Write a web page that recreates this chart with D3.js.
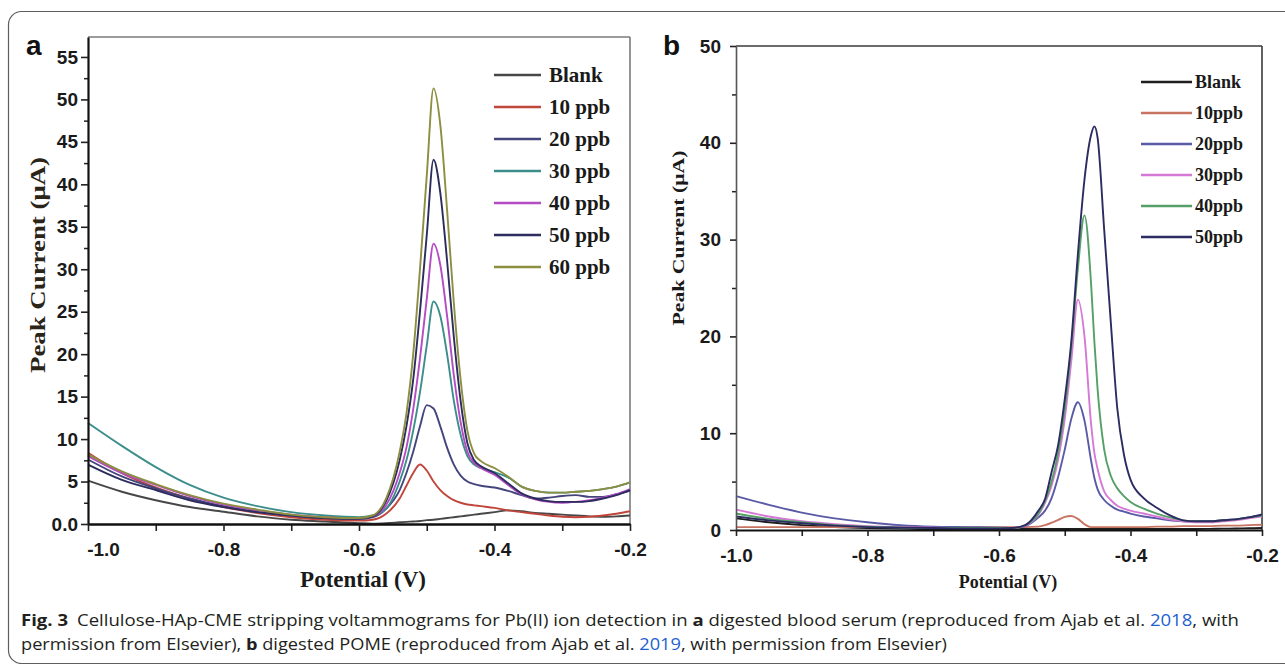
<!DOCTYPE html>
<html><head><meta charset="utf-8">
<script src="https://cdn.jsdelivr.net/npm/d3@7/dist/d3.min.js"></script>
<style>
html,body{margin:0;padding:0;background:#fff;}
svg{display:block;}
</style></head><body>
<svg id="fig" width="1285" height="664"></svg>
<script>
// ---------- Panel a data (blood serum) ----------
const potentialA = [-1.0,-0.95,-0.9,-0.85,-0.8,-0.75,-0.7,-0.65,-0.6,-0.58,-0.56,-0.54,-0.53,-0.52,-0.51,-0.5,-0.49,-0.48,-0.47,-0.46,-0.45,-0.44,-0.43,-0.42,-0.4,-0.38,-0.36,-0.34,-0.32,-0.3,-0.28,-0.26,-0.24,-0.22,-0.2];
const blankA = [5.1,3.8,2.8,2.0,1.45,0.9,0.5,0.3,0.1, 0.05,0.1,0.2,0.25,0.3,0.35,0.45,0.5,0.6,0.7,0.8,0.9,1.0,1.1,1.2,1.4,1.6,1.5,1.3,1.2,1.1,1.0,0.9,0.85,0.9,1.0];
const ppb10A = [8.4,6.0,4.3,3.0,2.0,1.3,0.8,0.5,0.4, 0.5,1.2,3.0,4.5,6.0,7.0,6.3,5.0,4.0,3.3,2.8,2.5,2.3,2.2,2.1,1.9,1.6,1.4,1.2,1.0,0.85,0.8,0.85,1.0,1.2,1.5];
const ppb20A = [7.6,5.6,4.2,3.0,2.1,1.4,1.0,0.7,0.6, 0.8,1.8,4.0,6.0,8.5,11.5,14.0,13.6,11.5,9.0,7.0,5.7,5.0,4.7,4.5,4.3,3.9,3.4,3.0,3.1,3.3,3.4,3.2,3.2,3.5,3.9];
const ppb30A = [11.9,9.2,6.7,4.6,3.1,2.1,1.4,1.0,0.8, 1.0,1.8,5.0,7.5,11.0,15.5,21.0,26.2,24.5,20.0,14.5,10.5,8.0,7.0,6.6,6.1,5.5,4.4,3.9,3.7,3.7,3.8,3.9,4.1,4.4,4.9];
const ppb40A = [8.0,6.0,4.6,3.3,2.3,1.6,1.1,0.8,0.65, 0.9,2.2,6.0,9.0,13.5,19.5,26.5,33.0,30.5,24.5,17.5,12.0,8.5,7.2,6.6,5.8,4.6,3.5,2.9,2.6,2.5,2.6,2.8,3.1,3.5,4.1];
const ppb50A = [7.0,5.2,4.0,2.8,2.0,1.4,1.0,0.7,0.6, 0.9,2.7,7.5,11.5,17.0,25.0,34.0,42.9,39.0,31.0,22.0,14.5,9.5,7.5,6.8,6.0,4.8,3.6,3.0,2.7,2.6,2.6,2.7,3.0,3.4,4.0];
const ppb60A = [8.2,6.2,4.7,3.4,2.4,1.7,1.1,0.8,0.7, 1.0,3.0,8.5,13.0,20.0,30.0,41.0,51.3,47.0,37.0,26.0,17.0,11.0,8.3,7.4,6.6,5.6,4.4,3.9,3.7,3.7,3.8,3.9,4.1,4.4,4.9];
const seriesNamesA = ["Blank","10 ppb","20 ppb","30 ppb","40 ppb","50 ppb","60 ppb"];
const xTicksA = [-1.0,-0.8,-0.6,-0.4,-0.2];
const xMinorA = [-0.9,-0.7,-0.5,-0.3];
const yTicksA = [0,5,10,15,20,25,30,35,40,45,50,55];
const yMinorA = [2.5,7.5,12.5,17.5,22.5,27.5,32.5,37.5,42.5,47.5,52.5];

// ---------- Panel b data (POME) ----------
const potentialB = [-1.0,-0.95,-0.9,-0.85,-0.8,-0.75,-0.7,-0.65,-0.6,-0.58,-0.56,-0.54,-0.53,-0.52,-0.51,-0.5,-0.49,-0.48,-0.47,-0.46,-0.455,-0.45,-0.44,-0.43,-0.42,-0.41,-0.4,-0.38,-0.36,-0.34,-0.32,-0.3,-0.28,-0.26,-0.24,-0.22,-0.2];
const blankB = [1.2,0.8,0.5,0.3,0.2,0.15,0.1,0.1,0.1, 0.1,0.1,0.1,0.1,0.1,0.1,0.1,0.1,0.1,0.1,0.1,0.1,0.1,0.1,0.1,0.1,0.1,0.1,0.1,0.1,0.1,0.1,0.1,0.12,0.14,0.15,0.18,0.2];
const ppb10B = [0.3,0.3,0.3,0.3,0.3,0.3,0.3,0.3,0.3, 0.3,0.3,0.35,0.5,0.75,1.05,1.35,1.45,1.15,0.6,0.3,0.3,0.3,0.3,0.3,0.3,0.3,0.3,0.3,0.35,0.35,0.4,0.4,0.4,0.45,0.45,0.5,0.55];
const ppb20B = [3.5,2.6,1.8,1.2,0.8,0.5,0.35,0.3,0.25, 0.2,0.4,1.3,2.0,3.3,5.5,8.3,11.5,13.2,11.3,7.2,5.4,4.2,3.1,2.5,2.1,1.9,1.7,1.4,1.2,1.0,0.9,0.85,0.9,1.0,1.1,1.3,1.5];
const ppb30B = [2.1,1.4,0.9,0.6,0.4,0.3,0.25,0.2,0.2, 0.2,0.45,1.6,2.8,4.6,7.3,11.5,17.5,23.8,20.0,11.0,8.0,6.3,4.0,3.1,2.5,2.2,2.0,1.7,1.4,1.1,0.9,0.8,0.8,0.9,1.0,1.2,1.4];
const ppb40B = [1.7,1.15,0.8,0.5,0.35,0.25,0.2,0.2,0.2, 0.2,0.5,1.7,3.0,5.0,8.0,12.5,19.0,27.0,32.5,25.5,19.5,14.5,8.3,5.6,4.3,3.5,2.9,2.2,1.7,1.3,1.0,0.9,0.9,1.0,1.1,1.3,1.5];
const ppb50B = [1.4,1.0,0.7,0.45,0.3,0.25,0.2,0.15,0.15, 0.2,0.5,2.0,3.2,6.0,8.8,13.5,19.5,28.5,36.2,40.8,41.7,40.5,31.0,21.5,12.5,7.8,5.2,3.3,2.3,1.5,1.0,0.9,0.9,1.0,1.1,1.3,1.6];
const seriesNamesB = ["Blank","10ppb","20ppb","30ppb","40ppb","50ppb"];
const xTicksB = [-1.0,-0.8,-0.6,-0.4,-0.2];
const xMinorB = [-0.9,-0.7,-0.5,-0.3];
const yTicksB = [0,10,20,30,40,50];
const yMinorB = [5,15,25,35,45];

// ---------- styles ----------
const colorsA = ["#474747","#c0463c","#45457e","#3c8e8c","#b44cc4","#2c2c5e","#8c8e40"];
const colorsB = ["#1e1e1e","#c87462","#5a5aa6","#d678d6","#55a066","#2c2c62"];
const SANS = "'Liberation Sans', Arial, sans-serif";
const SERIF = "'Liberation Serif', 'Times New Roman', serif";

const svg = d3.select("#fig");
svg.append("rect").attr("width",1285).attr("height",664).attr("fill","#fff");
// figure card
svg.append("rect").attr("x",8.5).attr("y",11.5).attr("width",1400).attr("height",652)
  .attr("rx",13).attr("fill","none").attr("stroke","#5e5e5e").attr("stroke-width",1.2);

function fmt(d){ return d.toFixed(1); }

function panel(cfg){
  const g = svg.append("g");
  const x = d3.scaleLinear().domain([-1.0,-0.2]).range([cfg.x0,cfg.x1]);
  const y = d3.scaleLinear().domain([0,cfg.yTop]).range([cfg.y0,cfg.y1]);
  // frame top/right
  g.append("line").attr("x1",cfg.x0).attr("x2",cfg.x1).attr("y1",cfg.y1).attr("y2",cfg.y1)
    .attr("stroke",cfg.frameColor).attr("stroke-width",1.6);
  g.append("line").attr("x1",cfg.x1).attr("x2",cfg.x1).attr("y1",cfg.y1).attr("y2",cfg.y0)
    .attr("stroke",cfg.frameColor).attr("stroke-width",1.6);
  // curves
  const line = d3.line().x(d=>x(d[0])).y(d=>y(d[1])).curve(d3.curveMonotoneX);
  cfg.series.forEach((s,i)=>{
    g.append("path").datum(cfg.xs.map((v,j)=>[v,s[j]]))
      .attr("d",line).attr("fill","none").attr("stroke",cfg.colors[i])
      .attr("stroke-width",cfg.lw).attr("stroke-linejoin","round");
  });
  // y minor
  g.append("g").attr("transform",`translate(${cfg.x0},0)`)
    .call(d3.axisLeft(y).tickValues(cfg.yMinor).tickSize(cfg.minorLen).tickFormat(""))
    .call(a=>{a.select(".domain").remove(); a.selectAll("line").attr("stroke","#222").attr("stroke-width",1.5);});
  // y major
  const ya = g.append("g").attr("transform",`translate(${cfg.x0},0)`)
    .call(d3.axisLeft(y).tickValues(cfg.yTicks).tickSize(cfg.majorLen).tickPadding(cfg.yPad)
      .tickSizeOuter(0).tickFormat(cfg.yFmt));
  ya.select(".domain").attr("stroke",cfg.leftColor).attr("stroke-width",cfg.leftW);
  ya.selectAll(".tick line").attr("stroke","#222").attr("stroke-width",1.6);
  ya.selectAll("text").attr("font-family",SANS).attr("font-weight","bold")
    .attr("font-size",cfg.tickFs).attr("fill","#1a1a1a");
  // x minor
  g.append("g").attr("transform",`translate(0,${cfg.y0})`)
    .call(d3.axisBottom(x).tickValues(cfg.xMinor).tickSize(cfg.xTickLen).tickFormat(""))
    .call(a=>{a.select(".domain").remove(); a.selectAll("line").attr("stroke","#222").attr("stroke-width",1.6);});
  // x major
  const xa = g.append("g").attr("transform",`translate(0,${cfg.y0})`)
    .call(d3.axisBottom(x).tickValues(cfg.xTicks).tickSize(cfg.xTickLen).tickPadding(cfg.xPad)
      .tickSizeOuter(0).tickFormat(fmt));
  xa.select(".domain").attr("stroke","#111").attr("stroke-width",cfg.bottomW);
  xa.selectAll(".tick line").attr("stroke","#222").attr("stroke-width",1.6);
  xa.selectAll("text").attr("font-family",SANS).attr("font-weight","bold")
    .attr("font-size",cfg.tickFs).attr("fill","#1a1a1a");
  if (cfg.firstXShift) xa.selectAll(".tick text").filter(d=>d===-1.0).attr("dx",cfg.firstXShift);
  // axis titles
  g.append("text").attr("x",(cfg.x0+cfg.x1)/2+cfg.xtDx).attr("y",cfg.xtY).attr("text-anchor","middle")
    .attr("font-family",SERIF).attr("font-weight","bold").attr("font-size",cfg.xtFs)
    .attr("fill","#1a1a1a").text("Potential (V)");
  g.append("text").attr("transform",`translate(${cfg.ytX},${cfg.ytY}) rotate(-90)`)
    .attr("text-anchor","middle").attr("font-family",SERIF).attr("font-weight","bold")
    .attr("font-size",cfg.ytFs).attr("fill",cfg.ytColor)
    .attr("textLength",cfg.ytLen).attr("lengthAdjust","spacingAndGlyphs")
    .text("Peak Current (\u03BCA)");
  // panel letter
  g.append("text").attr("x",cfg.letterX).attr("y",55).attr("font-family",SANS)
    .attr("font-weight","bold").attr("font-size",28).attr("fill","#111").text(cfg.letter);
  // legend
  cfg.names.forEach((n,i)=>{
    const yy = cfg.legY + i*cfg.legStep;
    g.append("line").attr("x1",cfg.legX0).attr("x2",cfg.legX1).attr("y1",yy).attr("y2",yy)
      .attr("stroke",cfg.colors[i]).attr("stroke-width",cfg.legLw);
    g.append("text").attr("x",cfg.legTx).attr("y",yy+cfg.legBase).attr("font-family",SERIF)
      .attr("font-weight","bold").attr("font-size",cfg.legFs).attr("fill","#1a1a1a").text(n);
  });
}

panel({
  letter:"a", letterX:26,
  x0:88, x1:630, y0:524, y1:37, yTop:57.35,
  xs:potentialA, series:[blankA,ppb10A,ppb20A,ppb30A,ppb40A,ppb50A,ppb60A],
  colors:colorsA, lw:1.9, names:seriesNamesA,
  yTicks:yTicksA, yMinor:yMinorA, xTicks:xTicksA, xMinor:xMinorA,
  yFmt:d=>d===0?"0.0":String(d), majorLen:7, minorLen:4, yPad:3,
  xTickLen:7, xPad:12, tickFs:19, firstXShift:15,
  frameColor:"#7a7a7a", leftColor:"#111", leftW:2.2, bottomW:2.6,
  xtDx:4, xtY:587, xtFs:23, ytX:45, ytY:265, ytFs:22, ytLen:216, ytColor:"#2b2418",
  legY:75, legStep:32, legX0:494, legX1:541, legTx:549, legBase:7, legFs:21, legLw:2.4
});

panel({
  letter:"b", letterX:663,
  x0:736, x1:1262, y0:530, y1:46, yTop:50,
  xs:potentialB, series:[blankB,ppb10B,ppb20B,ppb30B,ppb40B,ppb50B],
  colors:colorsB, lw:1.9, names:seriesNamesB,
  yTicks:yTicksB, yMinor:yMinorB, xTicks:xTicksB, xMinor:xMinorB,
  yFmt:d=>String(d), majorLen:6, minorLen:4, yPad:9,
  xTickLen:6, xPad:13, tickFs:19, firstXShift:0,
  frameColor:"#3a3a3a", leftColor:"#555", leftW:1.6, bottomW:2.2,
  xtDx:9, xtY:588, xtFs:18, ytX:684, ytY:238, ytFs:16.5, ytLen:175, ytColor:"#1a1a1a",
  legY:82, legStep:31, legX0:1141, legX1:1192, legTx:1195, legBase:6, legFs:18, legLw:2.4
});

// caption
const CAP = "'Open Sans', 'Noto Sans', sans-serif";
const cap1 = svg.append("text").attr("x",21).attr("y",626).attr("font-family",CAP)
  .attr("font-size",16.5).attr("fill","#231f20")
  .attr("textLength",1218).attr("lengthAdjust","spacingAndGlyphs");
cap1.append("tspan").attr("font-weight","bold").text("Fig. 3");
cap1.append("tspan").attr("dx",8).text("Cellulose-HAp-CME stripping voltammograms for Pb(II) ion detection in ");
cap1.append("tspan").attr("font-weight","bold").text("a");
cap1.append("tspan").text(" digested blood serum (reproduced from Ajab et al. ");
cap1.append("tspan").attr("fill","#1d5fd0").text("2018");
cap1.append("tspan").text(", with");
const cap2 = svg.append("text").attr("x",21).attr("y",650).attr("font-family",CAP)
  .attr("font-size",16.5).attr("fill","#231f20")
  .attr("textLength",926).attr("lengthAdjust","spacingAndGlyphs");
cap2.append("tspan").text("permission from Elsevier), ");
cap2.append("tspan").attr("font-weight","bold").text("b");
cap2.append("tspan").text(" digested POME (reproduced from Ajab et al. ");
cap2.append("tspan").attr("fill","#1d5fd0").text("2019");
cap2.append("tspan").text(", with permission from Elsevier)");
</script>
</body></html>
